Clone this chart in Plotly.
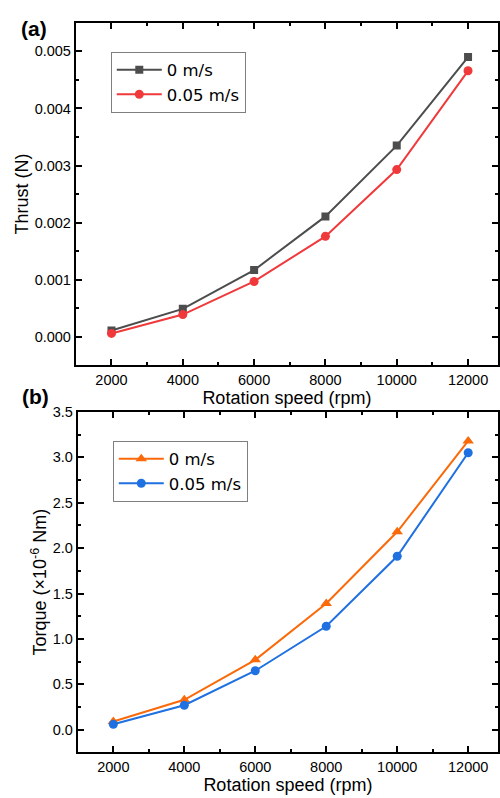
import plotly.graph_objects as go

rpm = [2000, 4000, 6000, 8000, 10000, 12000]
rpm_labels = ["2000", "4000", "6000", "8000", "10000", "12000"]
thrust_0 = [0.00011, 0.00049, 0.00117, 0.00211, 0.00335, 0.00490]
thrust_005 = [0.00006, 0.00039, 0.00097, 0.00176, 0.00293, 0.00466]
torque_0 = [0.09, 0.33, 0.77, 1.39, 2.18, 3.18]
torque_005 = [0.06, 0.27, 0.65, 1.14, 1.91, 3.05]
series_names = ["0 m/s", "0.05 m/s"]

FONT = "Liberation Sans, Arial, sans-serif"
LFONT = "DejaVu Sans, Liberation Sans, sans-serif"
W, H = 500, 798

def fx(px):
    return px / W

def fy(py):
    return 1 - py / H

fig = go.Figure()

fig.add_trace(go.Scatter(x=rpm, y=thrust_0, name=series_names[0], mode="lines+markers",
                         line=dict(color="#4d4d4d", width=2),
                         marker=dict(symbol="square", size=8, color="#4d4d4d"),
                         xaxis="x", yaxis="y", legend="legend"))
fig.add_trace(go.Scatter(x=rpm, y=thrust_005, name=series_names[1], mode="lines+markers",
                         line=dict(color="#f0393b", width=2),
                         marker=dict(symbol="circle", size=9, color="#f0393b"),
                         xaxis="x", yaxis="y", legend="legend"))
fig.add_trace(go.Scatter(x=rpm, y=torque_0, name=series_names[0], mode="lines+markers",
                         line=dict(color="#fa6a0a", width=2),
                         marker=dict(symbol="triangle-up", size=10, color="#fa6a0a"),
                         xaxis="x2", yaxis="y2", legend="legend2"))
fig.add_trace(go.Scatter(x=rpm, y=torque_005, name=series_names[1], mode="lines+markers",
                         line=dict(color="#1f70e0", width=2),
                         marker=dict(symbol="circle", size=9, color="#1f70e0"),
                         xaxis="x2", yaxis="y2", legend="legend2"))

common_axis = dict(showline=True, linecolor="black", linewidth=2, mirror="ticks",
                   ticks="inside", ticklen=6, tickwidth=1.5, tickcolor="black",
                   showgrid=False, zeroline=False,
                   tickfont=dict(family=FONT, size=14.5, color="black"))

xaxis_common = dict(common_axis, tickmode="array", tickvals=rpm, ticktext=rpm_labels,
                    minor=dict(ticks="inside", ticklen=3, tickwidth=1.5, tickcolor="black", dtick=1000, tick0=1000),
                    title=dict(text="Rotation speed (rpm)", font=dict(family=FONT, size=18, color="black"), standoff=1))

fig.update_layout(
    width=W, height=H,
    margin=dict(l=0, r=0, t=0, b=0),
    paper_bgcolor="white", plot_bgcolor="white",
    font=dict(family=FONT, color="black"),
    xaxis=dict(xaxis_common, domain=[fx(76), fx(499)], range=[1000, 12840], anchor="y"),
    yaxis=dict(common_axis, domain=[fy(361), fy(15)], range=[-0.0005, 0.0055], anchor="x",
               tickmode="linear", tick0=0, dtick=0.001, tickformat=".3f",
               minor=dict(ticks="inside", ticklen=3, tickwidth=1.5, tickcolor="black", dtick=0.0005, tick0=0),
               title=dict(text="Thrust (N)", font=dict(family=FONT, size=18, color="black"), standoff=1)),
    xaxis2=dict(xaxis_common, domain=[fx(78), fx(499)], range=[1000, 12840], anchor="y2"),
    yaxis2=dict(common_axis, domain=[fy(752), fy(408)], range=[-0.25, 3.5], anchor="x2",
                tickmode="linear", tick0=0, dtick=0.5, tickformat=".1f",
                minor=dict(ticks="inside", ticklen=3, tickwidth=1.5, tickcolor="black", dtick=0.25, tick0=0),
                title=dict(text="Torque (×10<sup>-6</sup> Nm)", font=dict(family=FONT, size=18, color="black"), standoff=1)),
    legend=dict(x=fx(111), y=fy(44), xanchor="left", yanchor="top",
                bordercolor="#7f7f7f", borderwidth=1, bgcolor="white",
                font=dict(family=LFONT, size=16.5, color="black"), itemwidth=45,
                tracegroupgap=0),
    legend2=dict(x=fx(113), y=fy(437), xanchor="left", yanchor="top",
                 bordercolor="#7f7f7f", borderwidth=1, bgcolor="white",
                 font=dict(family=LFONT, size=16.5, color="black"), itemwidth=45,
                 tracegroupgap=0),
    annotations=[
        dict(text="<b>(a)</b>", x=fx(34), y=fy(21), xref="paper", yref="paper",
             xanchor="center", yanchor="middle",
             showarrow=False, font=dict(family=FONT, size=21, color="black")),
        dict(text="<b>(b)</b>", x=fx(36), y=fy(392), xref="paper", yref="paper",
             xanchor="center", yanchor="middle",
             showarrow=False, font=dict(family=FONT, size=21, color="black")),
    ],
)

fig.write_html("out.html", config={"displayModeBar": False},
               post_script="document.body.style.margin='0';document.body.style.padding='0';document.body.style.overflow='hidden';")
